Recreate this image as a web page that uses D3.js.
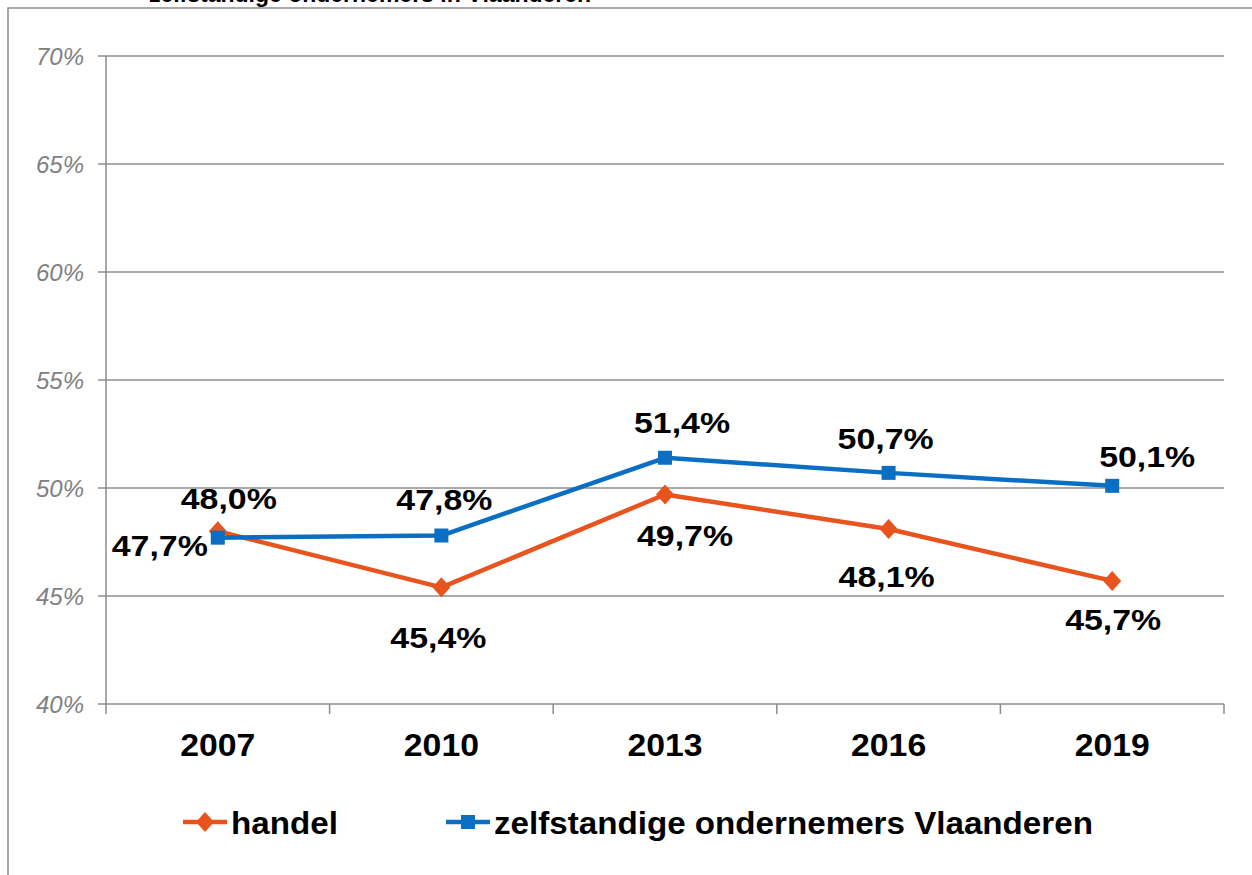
<!DOCTYPE html>
<html>
<head>
<meta charset="utf-8">
<script src="https://cdn.jsdelivr.net/npm/d3@7/dist/d3.min.js"></script>
<style>
  body { margin: 0; background: #fff; }
  svg { display: block; font-family: "Liberation Sans", Arial, sans-serif; }
</style>
</head>
<body>
<script>
// chart data
const years = ["2007", "2010", "2013", "2016", "2019"];
const handel = [48.0, 45.4, 49.7, 48.1, 45.7];
const zelfstandigen = [47.7, 47.8, 51.4, 50.7, 50.1];
const yTicks = [40, 45, 50, 55, 60, 65, 70];
const seriesNames = ["handel", "zelfstandige ondernemers Vlaanderen"];
const titleText = "zelfstandige ondernemers in Vlaanderen";

// where each value label sits relative to its marker (dx, dy)
const handelLabelOffset = [[11, -33], [-3, 50], [20, 41], [-2, 47], [1, 38]];
const zelfLabelOffset = [[-58, 7], [3, -37], [17, -36], [-3, -35], [35, -30]];

const W = 1252, H = 875;
const plot = { left: 106, right: 1224, top: 56, bottom: 704 };
const orange = "#E8531E", blue = "#0A6FC2", grid = "#8c8c8c";

const svg = d3.select("body").append("svg")
  .attr("width", W).attr("height", H);

// outer frame (only left and top edges visible)
svg.append("path")
  .attr("d", `M8,${H} V8 H${W}`)
  .attr("fill", "none").attr("stroke", grid).attr("stroke-width", 1.5);

// title, mostly cut off at the top like in the original
svg.append("text")
  .attr("x", 370).attr("y", 2)
  .attr("text-anchor", "middle")
  .attr("font-size", 23).attr("font-weight", "bold")
  .text(titleText);

const x = d3.scaleBand().domain(years).range([plot.left, plot.right]);
const y = d3.scaleLinear().domain([40, 70]).range([plot.bottom, plot.top]);
const cx = d => x(d) + x.bandwidth() / 2;

// horizontal gridlines
svg.append("g").selectAll("line")
  .data(yTicks)
  .join("line")
  .attr("x1", plot.left - 8).attr("x2", plot.right)
  .attr("y1", d => y(d)).attr("y2", d => y(d))
  .attr("stroke", grid).attr("stroke-width", 1.5);

// y axis line
svg.append("line")
  .attr("x1", plot.left).attr("x2", plot.left)
  .attr("y1", plot.top).attr("y2", plot.bottom + 10)
  .attr("stroke", grid).attr("stroke-width", 1.5);

// x ticks at band boundaries
const bounds = years.map(d => x(d)).concat([plot.right]);
svg.append("g").selectAll("line")
  .data(bounds.slice(1))
  .join("line")
  .attr("x1", d => d).attr("x2", d => d)
  .attr("y1", plot.bottom).attr("y2", plot.bottom + 10)
  .attr("stroke", grid).attr("stroke-width", 1.5);

// y tick labels
svg.append("g").selectAll("text")
  .data(yTicks)
  .join("text")
  .attr("x", 84).attr("y", d => y(d) + 9)
  .attr("text-anchor", "end")
  .attr("font-size", 24).attr("font-style", "italic")
  .attr("fill", "#808080")
  .text(d => d + "%");

// x labels (the source text is slightly stretched horizontally)
svg.append("g").selectAll("text")
  .data(years)
  .join("text")
  .attr("transform", d => `translate(${cx(d)},756) scale(1.09,1)`)
  .attr("text-anchor", "middle")
  .attr("font-size", 31).attr("font-weight", "bold")
  .text(d => d);

const line = d3.line().x((d, i) => cx(years[i])).y(d => y(d));

function drawSeries(values, color, shape, offsets) {
  const g = svg.append("g");
  g.append("path")
    .datum(values)
    .attr("d", line)
    .attr("fill", "none").attr("stroke", color)
    .attr("stroke-width", 4.5).attr("stroke-linejoin", "round");

  g.selectAll("path.marker")
    .data(values)
    .join("path")
    .attr("class", "marker")
    .attr("d", shape)
    .attr("transform", (d, i) => `translate(${cx(years[i])},${y(d)})`)
    .attr("fill", color);

  g.selectAll("text")
    .data(values)
    .join("text")
    .attr("transform", (d, i) =>
      `translate(${cx(years[i]) + offsets[i][0]},${y(d) + offsets[i][1] + 11}) scale(1.13,1)`)
    .attr("text-anchor", "middle")
    .attr("font-size", 30).attr("font-weight", "bold")
    .text(d => d.toFixed(1).replace(".", ",") + "%");
}

const diamond = "M0,-10 L9,0 L0,10 L-9,0 Z";
const square = "M-7,-7 H7 V7 H-7 Z";

drawSeries(handel, orange, diamond, handelLabelOffset);
drawSeries(zelfstandigen, blue, square, zelfLabelOffset);

// legend
const legend = [
  { name: seriesNames[0], color: orange, shape: diamond, x: 183 },
  { name: seriesNames[1], color: blue, shape: square, x: 446 }
];
const lg = svg.append("g").selectAll("g")
  .data(legend)
  .join("g")
  .attr("transform", d => `translate(${d.x},822)`);
lg.append("line")
  .attr("x1", 0).attr("x2", 44)
  .attr("stroke", d => d.color).attr("stroke-width", 4.5);
lg.append("path")
  .attr("d", d => d.shape)
  .attr("transform", "translate(22,0)")
  .attr("fill", d => d.color);
lg.append("text")
  .attr("transform", "translate(48,12) scale(1.07,1)")
  .attr("font-size", 31).attr("font-weight", "bold")
  .text(d => d.name);
</script>
</body>
</html>
